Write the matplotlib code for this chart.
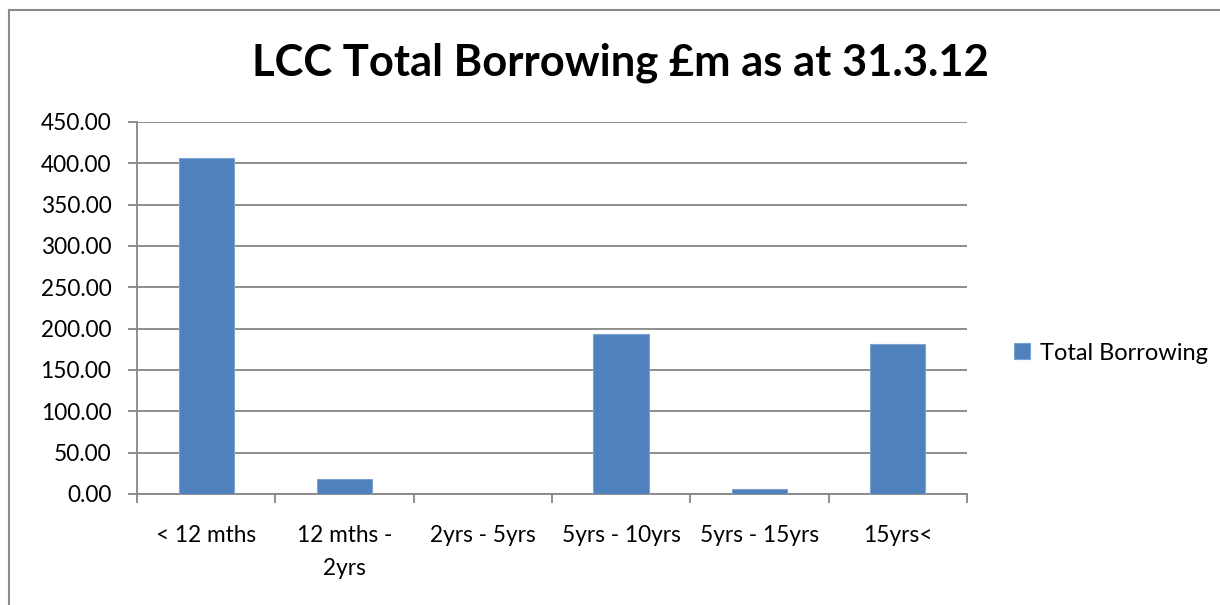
import matplotlib
matplotlib.use("Agg")
import matplotlib.pyplot as plt
from matplotlib.patches import Rectangle
import numpy as np

categories = ["< 12 mths", "12 mths -\n2yrs", "2yrs - 5yrs", "5yrs - 10yrs", "5yrs - 15yrs", "15yrs<"]
values = [406.0, 18.5, 0.0, 193.5, 6.0, 181.5]
series_name = "Total Borrowing"
title = "LCC Total Borrowing £m as at 31.3.12"
yticks = [0, 50, 100, 150, 200, 250, 300, 350, 400, 450]

plt.rcParams['font.family'] = ['Lato', 'DejaVu Sans']
W, H = 1220, 605
fig = plt.figure(figsize=(W / 100, H / 100), dpi=100)
fig.patch.set_facecolor("white")

# outer chart border
fig.patches.append(Rectangle((8.5 / W, 0 - 0.05), 1.2, (H - 10) / H + 0.05, transform=fig.transFigure,
                             fill=False, edgecolor="#8a8a8a", linewidth=1.5))

ax = fig.add_axes([137 / W, (H - 494) / H, (967 - 137) / W, (494 - 122) / H])
x = np.arange(len(categories))
ax.bar(x, values, width=0.4, color="#4F81BD", edgecolor="#7EA3D1", linewidth=0.8, zorder=3,
       label=series_name)
ax.set_xlim(-0.5, len(categories) - 0.5)
ax.set_ylim(0, 450)
ax.set_yticks(yticks)
ax.set_yticklabels([f"{v:.2f}" for v in yticks], fontsize=16.3, color="#000000")
ax.yaxis.grid(True, color="#868686", linewidth=1.3, zorder=0)
ax.set_axisbelow(True)

# x ticks at category boundaries, labels centered
ax.set_xticks(np.arange(-0.5, len(categories), 1.0))
ax.set_xticklabels([])
ax.set_xticks(x, minor=True)
ax.set_xticklabels(categories, minor=True, fontsize=16.3, linespacing=1.75)
ax.tick_params(axis="x", which="minor", length=0, pad=22)
ax.tick_params(axis="x", which="major", length=6.5, width=1.3, color="#868686")
ax.tick_params(axis="y", length=6.5, width=1.3, color="#868686", pad=12)

for s in ["top", "right"]:
    ax.spines[s].set_visible(False)
for s in ["left", "bottom"]:
    ax.spines[s].set_color("#868686")
    ax.spines[s].set_linewidth(1.3)

fig.text(620 / W, (H - 63) / H, title, fontsize=31.3, fontweight="bold", ha="center", va="center")

leg = fig.legend(loc="center left", bbox_to_anchor=(993 / W, (H - 353) / H), frameon=False,
                 fontsize=17, handlelength=0.65, handleheight=0.65, handletextpad=0.45)

fig.savefig("out.png", dpi=100, facecolor="white")
